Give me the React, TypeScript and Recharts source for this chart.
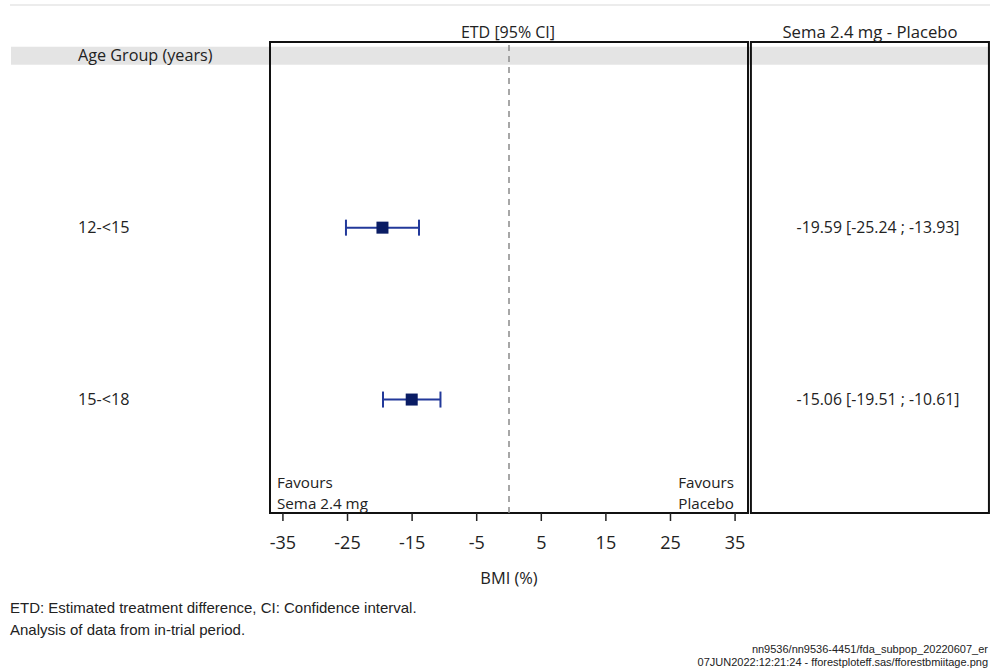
import React from "react";
import {
  ComposedChart,
  Scatter,
  ErrorBar,
  XAxis,
  YAxis,
  ReferenceArea,
  ReferenceLine,
} from "recharts";

const groups = ["12-<15", "15-<18"];
const estimates = [-19.59, -15.06];
const lower = [-25.24, -19.51];
const upper = [-13.93, -10.61];
const xTicks = [-35, -25, -15, -5, 5, 15, 25, 35];
const header = "Age Group (years)";

const data = groups.map((g, i) => ({
  group: g,
  row: i + 1,
  etd: estimates[i],
  ci: [estimates[i] - lower[i], upper[i] - estimates[i]],
}));

const ciText = (i: number) =>
  `${estimates[i].toFixed(2)} [${lower[i].toFixed(2)} ; ${upper[i].toFixed(2)}]`;

const FONT = "'Open Sans', 'Noto Sans', sans-serif";
const NARROW = "'Liberation Sans Narrow', 'Liberation Sans', sans-serif";
const TXT = "#222";

const LeftTick = (props: any) => {
  const { y, payload } = props;
  const label = payload.value === 0 ? header : groups[payload.value - 1];
  return (
    <text x={78} y={y} dy={5} fontSize={16.2} fill={TXT} fontFamily={FONT} textAnchor="start">
      {label}
    </text>
  );
};

const RightTick = (props: any) => {
  const { x, y, payload } = props;
  if (payload.value < 1) return null;
  return (
    <text x={x + 122} y={y} dy={5} fontSize={15.8} fill={TXT} fontFamily={FONT} textAnchor="middle">
      {ciText(payload.value - 1)}
    </text>
  );
};

const Marker = (props: any) => {
  const { cx, cy } = props;
  return <rect x={cx - 6} y={cy - 6} width={12} height={12} fill="#0a1c64" />;
};

const favStyle = (top: number, side: "left" | "right"): React.CSSProperties => ({
  position: "absolute",
  top,
  ...(side === "left" ? { left: 277 } : { right: 994 - 734, textAlign: "right" }),
  fontFamily: FONT,
  fontSize: 15.2,
  lineHeight: "21px",
  color: TXT,
  whiteSpace: "nowrap",
});

export default function App() {
  return (
    <div style={{ position: "absolute", left: 0, top: 0, width: 994, height: 669, background: "#fff" }}>
      <div style={{ position: "absolute", left: 10, top: 4, width: 980, height: 2, background: "#ececec" }} />
      <ComposedChart
        width={994}
        height={669}
        data={data}
        margin={{ top: 42, right: 0, bottom: 0, left: 0 }}
      >
        <ReferenceArea
          yAxisId="left"
          x1={-77.1}
          x2={74.3}
          y1={-0.052}
          y2={0.052}
          fill="#e4e4e4"
          fillOpacity={1}
          stroke="none"
          ifOverflow="visible"
        />
        <ReferenceArea
          yAxisId="left"
          x1={-37}
          x2={37}
          y1={-0.08}
          y2={2.66}
          fill="none"
          stroke="#111"
          strokeWidth={2}
          ifOverflow="visible"
        />
        <ReferenceArea
          yAxisId="left"
          x1={37.45}
          x2={74.3}
          y1={-0.08}
          y2={2.66}
          fill="none"
          stroke="#111"
          strokeWidth={2}
          ifOverflow="visible"
        />
        <ReferenceLine yAxisId="left" x={0} stroke="#8a8a8a" strokeWidth={1.5} strokeDasharray="6 5" />
        <XAxis
          type="number"
          dataKey="etd"
          domain={[-37, 37]}
          ticks={xTicks}
          allowDataOverflow
          axisLine={false}
          tickLine={{ stroke: "#222", strokeWidth: 1.5 }}
          tickSize={8}
          tickMargin={15}
          height={156}
          tick={{ fontSize: 18, fill: TXT, fontFamily: FONT }}
          interval={0}
        />
        <YAxis
          yAxisId="left"
          type="number"
          dataKey="row"
          domain={[-0.08, 2.66]}
          reversed
          allowDataOverflow
          ticks={[0, 1, 2]}
          width={270}
          axisLine={false}
          tickLine={false}
          tick={<LeftTick />}
          interval={0}
        />
        <YAxis
          yAxisId="right"
          orientation="right"
          type="number"
          domain={[-0.08, 2.66]}
          reversed
          allowDataOverflow
          ticks={[0, 1, 2]}
          width={246}
          axisLine={false}
          tickLine={false}
          tick={<RightTick />}
          interval={0}
        />
        <Scatter yAxisId="left" dataKey="row" shape={<Marker />} isAnimationActive={false}>
          <ErrorBar
            dataKey="ci"
            direction="x"
            width={8}
            stroke="#22399a"
            strokeWidth={2}
            isAnimationActive={false}
          />
        </Scatter>
      </ComposedChart>

      <div style={{ position: "absolute", left: 408, width: 200, top: 21, textAlign: "center", fontFamily: FONT, fontSize: 16, color: TXT }}>
        ETD [95% CI]
      </div>
      <div style={{ position: "absolute", left: 770, width: 200, top: 20, textAlign: "center", fontFamily: FONT, fontSize: 16.7, color: TXT }}>
        Sema 2.4 mg - Placebo
      </div>
      <div style={favStyle(471.5, "left")}>Favours</div>
      <div style={favStyle(492.5, "left")}>Sema 2.4 mg</div>
      <div style={favStyle(471.5, "right")}>Favours</div>
      <div style={favStyle(492.5, "right")}>Placebo</div>
      <div style={{ position: "absolute", left: 409, width: 200, top: 566, textAlign: "center", fontFamily: FONT, fontSize: 16.4, color: TXT }}>
        BMI (%)
      </div>
      <div style={{ position: "absolute", left: 10, top: 597, fontFamily: NARROW, fontSize: 15, color: TXT, lineHeight: "22px" }}>
        ETD: Estimated treatment difference, CI: Confidence interval.
        <br />
        Analysis of data from in-trial period.
      </div>
      <div style={{ position: "absolute", right: 6, top: 643, fontFamily: NARROW, fontSize: 11, color: TXT, lineHeight: "13px", textAlign: "right" }}>
        nn9536/nn9536-4451/fda_subpop_20220607_er
        <br />
        07JUN2022:12:21:24 - fforestploteff.sas/fforestbmiitage.png
      </div>
    </div>
  );
}
